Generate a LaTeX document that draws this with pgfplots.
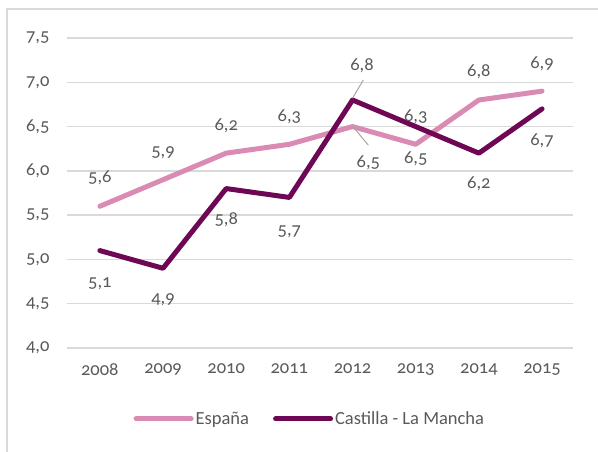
\documentclass[border=0pt]{standalone}
\usepackage{fontspec}
\setmainfont[Numbers=OldStyle]{Carlito}
\usepackage{pgfplots}
\pgfplotsset{compat=1.18}
\definecolor{espana}{RGB}{218,139,180}
\definecolor{clm}{RGB}{110,8,85}
\definecolor{txt}{RGB}{89,89,89}
\definecolor{gridc}{RGB}{217,217,217}
\begin{document}
\begin{tikzpicture}[x=1pt,y=1pt]
\useasboundingbox (0,0) rectangle (598,451);
\draw[gridc, line width=1.3pt] (7,-5) -- (7,442) -- (605,442);
\begin{axis}[
  at={(67pt,103pt)}, anchor=south west,
  scale only axis, width=506pt, height=310pt,
  xmin=-0.52, xmax=7.49, ymin=4, ymax=7.5,
  xtick={0,...,7}, xticklabels={2008,2009,2010,2011,2012,2013,2014,2015},
  ytick={4,4.5,...,7.5},
  yticklabel style={/pgf/number format/fixed, /pgf/number format/fixed zerofill, /pgf/number format/precision=1, /pgf/number format/use comma},
  /pgf/number format/assume math mode=true,
  axis line style={draw=none},
  major tick length=0pt,
  ymajorgrids, grid style={gridc, line width=1.3pt},
  tick label style={font=\fontsize{18.5}{20}\selectfont, text=txt},
  yticklabel style={xshift=-14pt},
  xticklabel style={yshift=-12pt},
  legend style={draw=none, fill=none, at={(0.48,-0.229)}, anchor=center,
    legend columns=2, font=\fontsize{18.5}{20}\selectfont, text=txt,
    /tikz/every even column/.append style={column sep=22pt}},
  legend image code/.code={\draw[#1, line cap=round] (0pt,0pt) -- (55pt,0pt);},
  clip=false,
]
\addplot[espana, line width=5pt, line join=round, line cap=round] coordinates {
  (0,5.6) (1,5.9) (2,6.2) (3,6.3) (4,6.5) (5,6.3) (6,6.8) (7,6.9)};
\addlegendentry{España}
\addplot[clm, line width=5pt, line join=round, line cap=round] coordinates {
  (0,5.1) (1,4.9) (2,5.8) (3,5.7) (4,6.8) (5,6.5) (6,6.2) (7,6.7)};
\addlegendentry{Castilla - La Mancha}
% leader lines
\addplot[gray!70, line width=1pt, forget plot] coordinates {(4.17,7.025) (4.0,6.82)};
\addplot[gray!70, line width=1pt, forget plot] coordinates {(4.0,6.505) (4.25,6.29)};
% data labels
\addplot[draw=none, mark=none, forget plot, point meta=explicit symbolic,
  nodes near coords, nodes near coords align=center,
  every node near coord/.append style={font=\fontsize{18.5}{20}\selectfont, text=txt, anchor=center, inner sep=0pt}]
  table[meta=l] {
x y l
0 5.92 5,6
1 6.20 5,9
2 6.505 6,2
3 6.61 6,3
4.25 6.09 6,5
5 6.61 6,3
6 7.115 6,8
7 7.205 6,9
0 4.73 5,1
1 4.54 4,9
2 5.445 5,8
3 5.31 5,7
4.15 7.19 6,8
5 6.14 6,5
6 5.85 6,2
7 6.34 6,7
};
\end{axis}
\end{tikzpicture}
\end{document}
